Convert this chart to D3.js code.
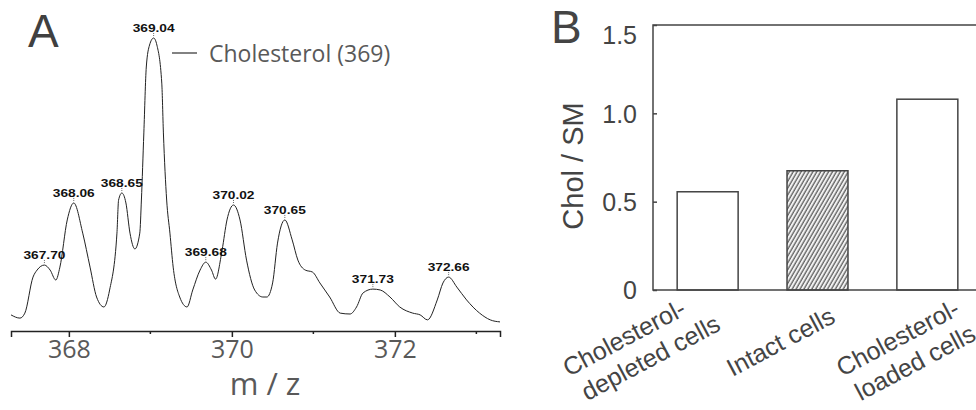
<!DOCTYPE html>
<html>
<head>
<meta charset="utf-8">
<script src="https://cdn.jsdelivr.net/npm/d3@7"></script>
<style>
  body { margin: 0; background: #fff; }
  svg { display: block; }
</style>
</head>
<body>
<svg id="chart" width="976" height="410"></svg>
<script>

// panel A: mass spectrum (m/z, relative intensity)
var mz = [367.29, 367.40, 367.46, 367.56, 367.61, 367.70, 367.77, 367.84, 367.89, 367.98,
  368.06, 368.17, 368.26, 368.34, 368.43, 368.50, 368.59, 368.61, 368.65, 368.70,
  368.75, 368.81, 368.87, 368.89, 368.92, 368.95, 368.99, 369.04, 369.08, 369.14,
  369.16, 369.20, 369.24, 369.28, 369.36, 369.45, 369.52, 369.61, 369.68, 369.75,
  369.80, 369.88, 369.94, 370.02, 370.10, 370.18, 370.28, 370.38, 370.43, 370.50,
  370.56, 370.65, 370.74, 370.81, 370.90, 370.99, 371.08, 371.20, 371.33, 371.45,
  371.53, 371.61, 371.73, 371.82, 371.94, 372.06, 372.22, 372.31, 372.40, 372.52,
  372.59, 372.66, 372.76, 372.88, 373.04, 373.17, 373.29];
var intensity = [5.5, 4.4, 6.1, 18.4, 20.8, 22.5, 20.8, 17.4, 21.8, 37.9,
  43.7, 33.4, 21.8, 11.6, 8.2, 14.0, 33.4, 44.7, 47.1, 43.7,
  33.4, 28.0, 33.4, 44.7, 67.6, 90.1, 97.6, 100, 97.6, 84.6,
  67.6, 44.7, 33.4, 21.8, 11.6, 8.2, 14.0, 20.8, 23.5, 20.8,
  17.7, 27.6, 37.9, 43.0, 37.9, 24.2, 14.0, 11.6, 11.6, 16.4,
  30.0, 37.9, 31.1, 24.2, 20.8, 20.1, 16.4, 11.6, 6.1, 5.8,
  8.2, 13.0, 14.3, 14.0, 11.6, 8.2, 6.1, 5.5, 3.8, 10.6,
  16.4, 18.4, 15.0, 10.6, 6.1, 3.8, 3.1];
var peaks = [367.70, 368.06, 368.65, 369.04, 369.68, 370.02, 370.65, 371.73, 372.66];
var majorTicksA = [368, 370, 372];
var minorTicksA = [369, 371, 373];

// panel B: Chol / SM ratio
var categories = ['depleted', 'intact', 'loaded'];
var catLabels = [['Cholesterol-', 'depleted cells'], ['Intact cells'], ['Cholesterol-', 'loaded cells']];
var ratios = [0.556, 0.675, 1.08];
var ticksB = [0, 0.5, 1.0, 1.5];

var svg = d3.select('#chart');

// ---------- panel A ----------
var xA = d3.scaleLinear().domain([367.29, 373.29]).range([11, 500]);
var yA = d3.scaleLinear().domain([0, 100]).range([331, 38]);
var axisYA = 331;

var spectrum = mz.map(function(m, i){ return [m, intensity[i]]; });

svg.append('path')
  .datum(spectrum)
  .attr('fill', 'none')
  .attr('stroke', '#222')
  .attr('stroke-width', 1)
  .attr('d', d3.line()
    .x(function(d){ return xA(d[0]); })
    .y(function(d){ return yA(d[1]); })
    .curve(d3.curveMonotoneX));

var gxA = svg.append('g')
  .attr('transform', 'translate(0,' + axisYA + ')')
  .call(d3.axisBottom(xA).tickValues(majorTicksA).tickSize(6).tickPadding(3).tickFormat(d3.format('d')));
gxA.select('.domain').attr('stroke', '#222').attr('stroke-width', 1.5);
gxA.selectAll('.tick line').attr('stroke', '#222').attr('stroke-width', 1.5);
gxA.selectAll('.tick text')
  .attr('fill', '#595959')
  .style('font-family', '"Open Sans", sans-serif')
  .style('font-size', '25px');

svg.append('g').selectAll('line')
  .data(minorTicksA)
  .enter()
  .append('line')
  .attr('x1', function(d){ return xA(d); })
  .attr('x2', function(d){ return xA(d); })
  .attr('y1', axisYA)
  .attr('y2', axisYA + 3)
  .attr('stroke', '#222')
  .attr('stroke-width', 1.5);

svg.append('text')
  .attr('x', 265)
  .attr('y', 395)
  .attr('text-anchor', 'middle')
  .attr('fill', '#595959')
  .style('font-family', '"Open Sans", sans-serif')
  .style('font-size', '31px')
  .text('m / z');

// peak labels
function peakValue(p){
  var best = 0;
  mz.forEach(function(m, i){
    if (Math.abs(m - p) < Math.abs(mz[best] - p)) best = i;
  });
  return intensity[best];
}

var peakG = svg.append('g').selectAll('g')
  .data(peaks)
  .enter()
  .append('g')
  .attr('transform', function(d){
    return 'translate(' + xA(d) + ',' + yA(peakValue(d)) + ')';
  });

peakG.append('line')
  .attr('y1', -5)
  .attr('y2', -1)
  .attr('stroke', '#444')
  .attr('stroke-width', 0.8)
  .attr('stroke-dasharray', '1,1');

peakG.append('text')
  .attr('y', -6)
  .attr('text-anchor', 'middle')
  .attr('fill', '#111')
  .attr('textLength', 42)
  .attr('lengthAdjust', 'spacingAndGlyphs')
  .style('font-family', '"Liberation Sans", Arial, sans-serif')
  .style('font-weight', 'bold')
  .style('font-size', '10.5px')
  .text(function(d){ return d.toFixed(2); });

// annotation
svg.append('line')
  .attr('x1', 172).attr('x2', 197)
  .attr('y1', 53).attr('y2', 53)
  .attr('stroke', '#595959')
  .attr('stroke-width', 1.5);

svg.append('text')
  .attr('x', 209)
  .attr('y', 62)
  .attr('fill', '#595959')
  .style('font-family', '"Open Sans", sans-serif')
  .style('font-size', '23px')
  .text('Cholesterol (369)');

svg.append('text')
  .attr('x', 28)
  .attr('y', 47)
  .attr('fill', '#404040')
  .style('font-family', '"Liberation Sans", Arial, sans-serif')
  .style('font-size', '46px')
  .text('A');

// ---------- panel B ----------
var bLeft = 653, bRight = 982, bTop = 25, bBottom = 290;

var xB = d3.scaleBand()
  .domain(categories)
  .range([bLeft, bRight])
  .paddingInner(0.445)
  .paddingOuter(0.22);
var yB = d3.scaleLinear().domain([0, 1.5]).range([bBottom, bTop]);

var defs = svg.append('defs');
var pat = defs.append('pattern')
  .attr('id', 'hatch')
  .attr('patternUnits', 'userSpaceOnUse')
  .attr('width', 3.4)
  .attr('height', 10)
  .attr('patternTransform', 'rotate(30)');
pat.append('rect').attr('width', 3.4).attr('height', 10).attr('fill', '#f2f2f2');
pat.append('line')
  .attr('x1', 1).attr('x2', 1)
  .attr('y1', 0).attr('y2', 10)
  .attr('stroke', '#444')
  .attr('stroke-width', 1.1);

svg.append('g').selectAll('rect')
  .data(ratios)
  .enter()
  .append('rect')
  .attr('x', function(d, i){ return xB(categories[i]); })
  .attr('y', function(d){ return yB(d); })
  .attr('width', xB.bandwidth())
  .attr('height', function(d){ return bBottom - yB(d); })
  .attr('fill', function(d, i){ return categories[i] === 'intact' ? 'url(#hatch)' : '#fff'; })
  .attr('stroke', '#444')
  .attr('stroke-width', 1.5);

// frame
svg.append('path')
  .attr('d', 'M' + bRight + ',' + bTop + 'H' + bLeft + 'V' + bBottom + 'H' + bRight)
  .attr('fill', 'none')
  .attr('stroke', '#444')
  .attr('stroke-width', 1.5);

var gyB = svg.append('g')
  .attr('transform', 'translate(' + bLeft + ',0)')
  .call(d3.axisLeft(yB).tickValues(ticksB).tickSize(-4).tickPadding(16)
    .tickFormat(function(d){ return d === 0 ? '0' : d3.format('.1f')(d); }));
gyB.select('.domain').remove();
gyB.selectAll('.tick line').attr('stroke', '#444').attr('stroke-width', 1.5);
gyB.selectAll('.tick text')
  .attr('fill', '#444')
  .attr('dy', function(d){ return d === 1.5 ? '0.75em' : '0.35em'; })
  .style('font-family', '"Liberation Sans", Arial, sans-serif')
  .style('font-size', '25px');

svg.append('text')
  .attr('transform', 'translate(583,166) rotate(-90)')
  .attr('text-anchor', 'middle')
  .attr('fill', '#444')
  .style('font-family', '"Liberation Sans", Arial, sans-serif')
  .style('font-size', '29px')
  .text('Chol / SM');

// rotated category labels
var labelNudge = [-54, 0, 0];
var labG = svg.append('g').selectAll('g')
  .data(catLabels)
  .enter()
  .append('g')
  .attr('transform', function(d, i){
    var cx = xB(categories[i]) + xB.bandwidth() / 2;
    return 'translate(' + (cx - 85 + labelNudge[i]) + ',' + (bBottom + 87) + ') rotate(-28)';
  });

labG.selectAll('text')
  .data(function(d){ return d; })
  .enter()
  .append('text')
  .attr('x', function(d, j){ return j * 5; })
  .attr('y', function(d, j){ return j * 30; })
  .attr('fill', '#444')
  .style('font-family', '"Liberation Sans", Arial, sans-serif')
  .style('font-size', '25px')
  .text(function(d){ return d; });

svg.append('text')
  .attr('x', 551)
  .attr('y', 43)
  .attr('fill', '#444')
  .style('font-family', '"Liberation Sans", Arial, sans-serif')
  .style('font-size', '46px')
  .text('B');

</script>
</body>
</html>
